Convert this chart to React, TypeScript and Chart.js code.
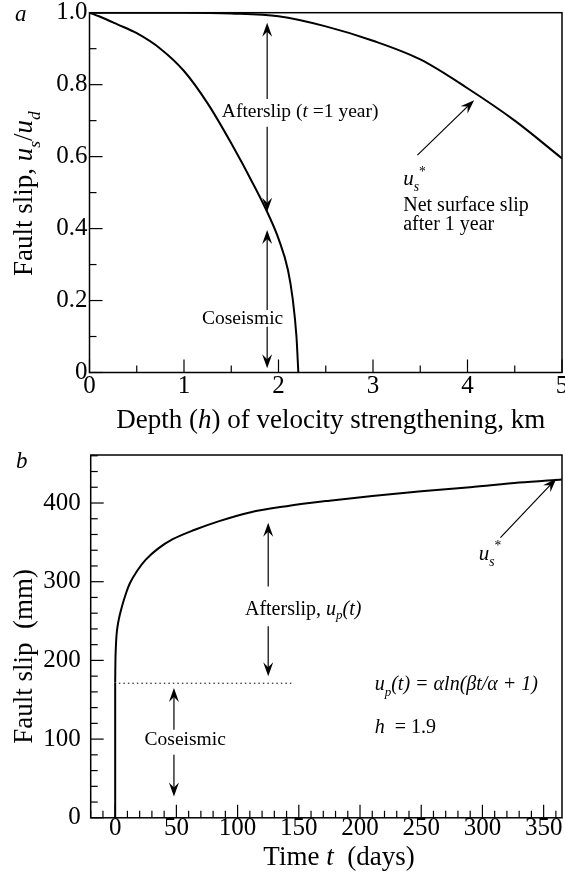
import React, { useEffect, useRef } from 'react';
import { Chart, registerables } from 'chart.js';
Chart.register(...registerables);

const FONT = "'Liberation Serif', 'Times New Roman', serif";

// ---------- Panel a data ----------
const depthCoseismic = [0, 0.1, 0.3, 0.5, 0.75, 1.0, 1.25, 1.5, 1.75, 1.9, 2.0, 2.1, 2.15, 2.19, 2.21];
const slipCoseismic = [1.0, 0.99, 0.967, 0.943, 0.9, 0.838, 0.748, 0.637, 0.515, 0.435, 0.372, 0.285, 0.205, 0.1, 0];
const depthAfterslip = [0, 0.5, 1.0, 1.5, 2.0, 2.5, 3.0, 3.5, 4.0, 4.5, 5.0];
const slipAfterslip = [1, 1, 1, 0.998, 0.99, 0.962, 0.922, 0.87, 0.79, 0.7, 0.595];
const depthTickLabels = [0, 1, 2, 3, 4, 5];
const slipTickLabelsA = [0, 0.2, 0.4, 0.6, 0.8, 1.0];

// ---------- Panel b data ----------
const timeDays = [0, 0.2, 0.5, 1, 2, 3.5, 6, 9, 12, 18, 25, 35, 47, 65, 85, 110, 140, 175, 210, 250, 290, 330, 365];
const slipMm = [172, 200, 215, 230, 244, 256, 271, 286, 298, 314, 328, 342, 354, 366, 377, 388, 396, 403, 409, 415, 420, 426, 430];
const jumpTime = [0, 0];
const jumpSlip = [0, 172];
const coseismicLevelTimes = [3, 144];
const coseismicLevelMm = 171;
const timeTickLabels = [0, 50, 100, 150, 200, 250, 300, 350];
const slipTickLabelsB = [0, 100, 200, 300, 400];

type Seg = { t: string; it?: boolean; sub?: boolean; sup?: boolean };

function drawRich(ctx: CanvasRenderingContext2D, segs: Seg[], x: number, y: number, size: number, align: 'left' | 'center') {
  const fontFor = (s: Seg) => `${s.it ? 'italic ' : ''}${s.sub || s.sup ? size * 0.65 : size}px ${FONT}`;
  let total = 0;
  const widths = segs.map((s) => {
    ctx.font = fontFor(s);
    const w = ctx.measureText(s.t).width;
    total += w;
    return w;
  });
  let cx = align === 'center' ? x - total / 2 : x;
  ctx.textAlign = 'left';
  segs.forEach((s, i) => {
    ctx.font = fontFor(s);
    const dy = s.sub ? size * 0.3 : s.sup ? -size * 0.45 : 0;
    ctx.fillText(s.t, cx, y + dy);
    cx += widths[i];
  });
}

function arrow(ctx: CanvasRenderingContext2D, x1: number, y1: number, x2: number, y2: number) {
  const ang = Math.atan2(y2 - y1, x2 - x1);
  const L = 14, W = 5, notch = 9;
  ctx.beginPath();
  ctx.moveTo(x1, y1);
  ctx.lineTo(x2 - Math.cos(ang) * notch, y2 - Math.sin(ang) * notch);
  ctx.stroke();
  ctx.save();
  ctx.translate(x2, y2);
  ctx.rotate(ang);
  ctx.beginPath();
  ctx.moveTo(0, 0);
  ctx.lineTo(-L, -W);
  ctx.lineTo(-notch, 0);
  ctx.lineTo(-L, W);
  ctx.closePath();
  ctx.fill();
  ctx.restore();
}

function drawFrameAndTicks(chart: any, xStep: number, xMajorEvery: number, yStep: number, yMajorEvery: number) {
  const { ctx, chartArea: a, scales } = chart;
  const xs = scales.x, ys = scales.y;
  ctx.lineWidth = 1.5;
  ctx.strokeRect(a.left, a.top, a.right - a.left, a.bottom - a.top);
  ctx.lineWidth = 1.2;
  const major = 13, minor = 7;
  const xStart = Math.ceil(xs.min / xStep - 1e-9);
  for (let k = xStart; k * xStep <= xs.max + 1e-9; k++) {
    const v = k * xStep;
    const isMajor = Math.abs(Math.round(v / xMajorEvery) * xMajorEvery - v) < 1e-6;
    const px = xs.getPixelForValue(v);
    ctx.beginPath();
    ctx.moveTo(px, a.bottom);
    ctx.lineTo(px, a.bottom - (isMajor ? major : minor));
    ctx.stroke();
  }
  const yStart = Math.ceil(ys.min / yStep - 1e-9);
  for (let k = yStart; k * yStep <= ys.max + 1e-9; k++) {
    const v = k * yStep;
    const isMajor = Math.abs(Math.round(v / yMajorEvery) * yMajorEvery - v) < 1e-6;
    const py = ys.getPixelForValue(v);
    ctx.beginPath();
    ctx.moveTo(a.left, py);
    ctx.lineTo(a.left + (isMajor ? major : minor), py);
    ctx.stroke();
  }
}

const ANN = 19.5;

const panelAPlugin = {
  id: 'panelA',
  afterDraw(chart: any) {
    const { ctx, chartArea: a, scales } = chart;
    const X = (v: number) => scales.x.getPixelForValue(v);
    const Y = (v: number) => scales.y.getPixelForValue(v);
    ctx.save();
    ctx.fillStyle = '#000';
    ctx.strokeStyle = '#000';
    drawFrameAndTicks(chart, 0.5, 1, 0.1, 0.2);

    ctx.lineWidth = 1.2;
    arrow(ctx, X(1.88), Y(0.76), X(1.88), Y(0.972));
    arrow(ctx, X(1.88), Y(0.683), X(1.88), Y(0.447));
    arrow(ctx, X(1.88), Y(0.174), X(1.88), Y(0.396));
    arrow(ctx, X(1.88), Y(0.127), X(1.88), Y(0.012));
    arrow(ctx, X(3.47), Y(0.604), X(4.07), Y(0.757));

    ctx.textBaseline = 'middle';
    drawRich(ctx, [{ t: 'Afterslip (' }, { t: 't', it: true }, { t: ' =1 year)' }], X(1.4), Y(0.723), ANN, 'left');
    drawRich(ctx, [{ t: 'Coseismic' }], X(1.19), Y(0.15), ANN, 'left');

    ctx.textBaseline = 'alphabetic';
    drawRich(ctx, [{ t: 'u', it: true }, { t: 's', it: true, sub: true }, { t: '*', sup: true }], X(3.32), Y(0.521), 21, 'left');
    drawRich(ctx, [{ t: 'Net surface slip' }], X(3.32), Y(0.449), 20, 'left');
    drawRich(ctx, [{ t: 'after 1 year' }], X(3.32), Y(0.395), 20, 'left');

    drawRich(ctx, [{ t: 'Depth (' }, { t: 'h', it: true }, { t: ') of velocity strengthening, km' }], (a.left + a.right) / 2 + 5, a.bottom + 55, 27, 'center');
    ctx.save();
    ctx.translate(32, (a.top + a.bottom) / 2 + 1);
    ctx.rotate(-Math.PI / 2);
    drawRich(ctx, [{ t: 'Fault slip, ' }, { t: 'u', it: true }, { t: 's', it: true, sub: true }, { t: '/' }, { t: 'u', it: true }, { t: 'd', it: true, sub: true }], 0, 0, 27, 'center');
    ctx.restore();

    ctx.font = `italic 23px ${FONT}`;
    ctx.textAlign = 'left';
    ctx.fillText('a', 15, 21);
    ctx.restore();
  },
};

const panelBPlugin = {
  id: 'panelB',
  afterDraw(chart: any) {
    const { ctx, chartArea: a, scales } = chart;
    const X = (v: number) => scales.x.getPixelForValue(v);
    const Y = (v: number) => scales.y.getPixelForValue(v);
    ctx.save();
    ctx.fillStyle = '#000';
    ctx.strokeStyle = '#000';
    drawFrameAndTicks(chart, 10, 50, 20, 100);

    ctx.lineWidth = 1.2;
    arrow(ctx, X(125), Y(294), X(125), Y(375));
    arrow(ctx, X(125), Y(243.5), X(125), Y(180));
    arrow(ctx, X(48), Y(112), X(48), Y(165));
    arrow(ctx, X(48), Y(80), X(48), Y(27));
    arrow(ctx, X(314.7), Y(356), X(360.4), Y(431));

    ctx.textBaseline = 'middle';
    drawRich(ctx, [{ t: 'Afterslip, ' }, { t: 'u', it: true }, { t: 'p', it: true, sub: true }, { t: '(t)', it: true }], X(106), Y(264.7), 20, 'left');
    drawRich(ctx, [{ t: 'Coseismic' }], X(24), Y(99), ANN, 'left');

    ctx.textBaseline = 'alphabetic';
    drawRich(ctx, [{ t: 'u', it: true }, { t: 's', it: true, sub: true }, { t: '*', sup: true }], X(297), Y(328), 21, 'left');
    drawRich(ctx, [{ t: 'u', it: true }, { t: 'p', it: true, sub: true }, { t: '(t) = \u03b1ln(\u03b2t/\u03b1 + 1)', it: true }], X(212), Y(162.5), 20, 'left');
    drawRich(ctx, [{ t: 'h', it: true }, { t: '  = 1.9' }], X(212), Y(108), 20, 'left');

    drawRich(ctx, [{ t: 'Time ' }, { t: 't', it: true }, { t: '  (days)' }], 339, a.bottom + 47, 27, 'center');
    ctx.save();
    ctx.translate(31.7, (a.top + a.bottom) / 2 + 20);
    ctx.rotate(-Math.PI / 2);
    drawRich(ctx, [{ t: 'Fault slip  (mm)' }], 0, 0, 27, 'center');
    ctx.restore();

    ctx.font = `italic 23px ${FONT}`;
    ctx.textAlign = 'left';
    ctx.fillText('b', 16, 28);
    ctx.restore();
  },
};

const tickFont = { family: FONT, size: 25 };

function configA(): any {
  return {
    type: 'scatter',
    data: {
      datasets: [
        {
          data: depthCoseismic.map((x, i) => ({ x, y: slipCoseismic[i] })),
          showLine: true, borderColor: '#000', borderWidth: 2, pointRadius: 0,
          cubicInterpolationMode: 'monotone', fill: false,
        },
        {
          data: depthAfterslip.map((x, i) => ({ x, y: slipAfterslip[i] })),
          showLine: true, borderColor: '#000', borderWidth: 2, pointRadius: 0,
          cubicInterpolationMode: 'monotone', fill: false,
        },
      ],
    },
    options: {
      animation: false, responsive: false, devicePixelRatio: 1,
      layout: { padding: { left: 0, top: 12.7, right: 3, bottom: 0 } },
      plugins: { legend: { display: false }, tooltip: { enabled: false } },
      scales: {
        x: {
          type: 'linear', min: 0, max: 5,
          grid: { display: false, drawTicks: false }, border: { display: false },
          ticks: { font: tickFont, color: '#000', padding: -1, maxRotation: 0, autoSkip: false, callback: (v: number) => String(v) },
          afterBuildTicks: (s: any) => { s.ticks = depthTickLabels.map((v) => ({ value: v })); },
          afterFit: (s: any) => { s.height = 67.5; s.paddingLeft = 0; s.paddingRight = 0; },
        },
        y: {
          type: 'linear', min: 0, max: 1,
          grid: { display: false, drawTicks: false }, border: { display: false },
          ticks: { font: tickFont, color: '#000', padding: 2, autoSkip: false, callback: (v: number) => (v === 0 ? '0' : v.toFixed(1)) },
          afterBuildTicks: (s: any) => { s.ticks = slipTickLabelsA.map((v) => ({ value: v })); },
          afterFit: (s: any) => { s.width = 89.5; s.paddingTop = 0; s.paddingBottom = 0; },
        },
      },
    },
    plugins: [panelAPlugin],
  };
}

function configB(): any {
  return {
    type: 'scatter',
    data: {
      datasets: [
        {
          data: jumpTime.map((x, i) => ({ x, y: jumpSlip[i] })),
          showLine: true, borderColor: '#000', borderWidth: 2, pointRadius: 0, fill: false,
        },
        {
          data: timeDays.map((x, i) => ({ x, y: slipMm[i] })),
          showLine: true, borderColor: '#000', borderWidth: 2, pointRadius: 0,
          cubicInterpolationMode: 'monotone', fill: false,
        },
        {
          data: coseismicLevelTimes.map((x) => ({ x, y: coseismicLevelMm })),
          showLine: true, borderColor: '#000', borderWidth: 1, borderDash: [1.5, 3], pointRadius: 0, fill: false,
        },
      ],
    },
    options: {
      animation: false, responsive: false, devicePixelRatio: 1,
      layout: { padding: { left: 0, top: 15, right: 3, bottom: 0 } },
      plugins: { legend: { display: false }, tooltip: { enabled: false } },
      scales: {
        x: {
          type: 'linear', min: -20, max: 365,
          grid: { display: false, drawTicks: false }, border: { display: false },
          ticks: { font: tickFont, color: '#000', padding: -4, maxRotation: 0, autoSkip: false, callback: (v: number) => String(v) },
          afterBuildTicks: (s: any) => { s.ticks = timeTickLabels.map((v) => ({ value: v })); },
          afterFit: (s: any) => { s.height = 65.2; s.paddingLeft = 0; s.paddingRight = 0; },
        },
        y: {
          type: 'linear', min: 0, max: 461,
          grid: { display: false, drawTicks: false }, border: { display: false },
          ticks: { font: tickFont, color: '#000', padding: 10, autoSkip: false, callback: (v: number) => String(v) },
          afterBuildTicks: (s: any) => { s.ticks = slipTickLabelsB.map((v) => ({ value: v })); },
          afterFit: (s: any) => { s.width = 90.7; s.paddingTop = 0; s.paddingBottom = 0; },
        },
      },
    },
    plugins: [panelBPlugin],
  };
}

export default function App() {
  const topRef = useRef<HTMLCanvasElement>(null);
  const botRef = useRef<HTMLCanvasElement>(null);
  useEffect(() => {
    const c1 = new Chart(topRef.current as HTMLCanvasElement, configA());
    const c2 = new Chart(botRef.current as HTMLCanvasElement, configB());
    return () => {
      c1.destroy();
      c2.destroy();
    };
  }, []);
  return (
    <div style={{ position: 'absolute', left: 0, top: 0, width: 565, height: 883, background: '#fff' }}>
      <div style={{ position: 'absolute', left: 0, top: 0, width: 565, height: 440 }}>
        <canvas ref={topRef} width={565} height={440} style={{ display: 'block' }} />
      </div>
      <div style={{ position: 'absolute', left: 0, top: 440, width: 565, height: 443 }}>
        <canvas ref={botRef} width={565} height={443} style={{ display: 'block' }} />
      </div>
    </div>
  );
}
